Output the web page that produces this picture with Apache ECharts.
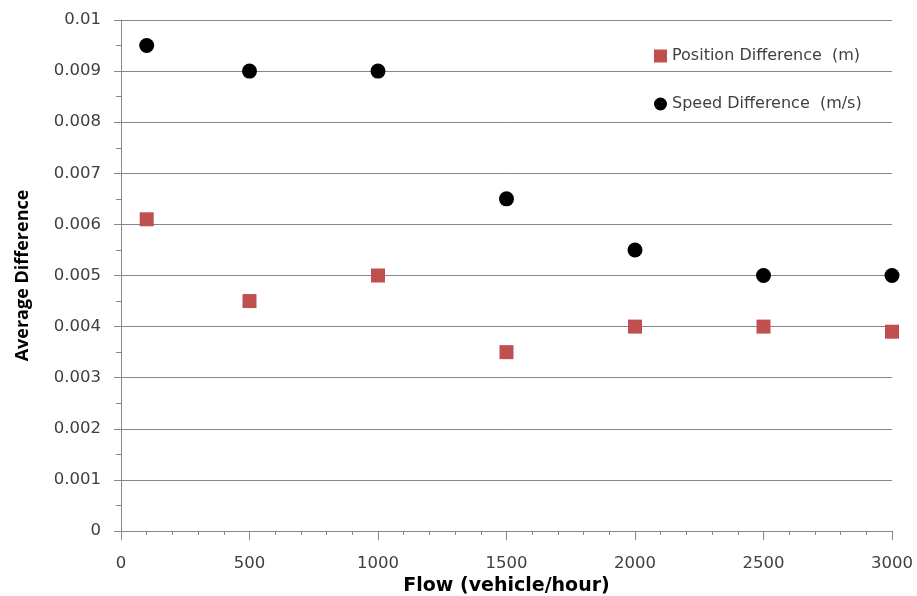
<!DOCTYPE html>
<html><head><meta charset="utf-8">
<script src="https://cdn.jsdelivr.net/npm/echarts@6/dist/echarts.min.js"></script>
<style>html,body{margin:0;padding:0;background:#fff}#c{width:917px;height:596px}</style>
</head><body><div id="c"></div>
<script>
var flows = [100, 500, 1000, 1500, 2000, 2500, 3000];
var positionDiff = [0.0061, 0.0045, 0.0050, 0.0035, 0.0040, 0.0040, 0.0039];
var speedDiff = [0.0095, 0.0090, 0.0090, 0.0065, 0.0055, 0.0050, 0.0050];
var seriesNames = ['Position Difference  (m)', 'Speed Difference  (m/s)'];

var chart = echarts.init(document.getElementById('c'));
var hfont = '"DejaVu Sans", sans-serif';
var vfont = '"Open Sans", sans-serif';
function pairs(xs, ys){ return xs.map(function(x,i){return [x, ys[i]];}); }
chart.setOption({
  animation: false,
  backgroundColor: '#fff',
  grid: {left: 121, right: 25, top: 20, bottom: 65, containLabel: false, outerBoundsMode: 'none'},
  legend: {
    orient: 'vertical', left: 649, top: 43, itemGap: 32,
    itemWidth: 13, itemHeight: 13,
    textStyle: {fontFamily: hfont, fontSize: 16, color: '#404040'},
    data: [{name: seriesNames[0], icon: 'rect'}, {name: seriesNames[1], icon: 'circle'}]
  },
  xAxis: {
    type: 'value', min: 0, max: 3000, interval: 500,
    name: 'Flow (vehicle/hour)', nameLocation: 'middle', nameGap: 36,
    nameTextStyle: {fontFamily: hfont, fontSize: 19, fontWeight: 'bold', color: '#000'},
    axisLine: {lineStyle: {color: '#868686'}},
    axisTick: {show: true, length: 9, lineStyle: {color: '#868686'}},
    minorTick: {show: true, splitNumber: 5, length: 4, lineStyle: {color: '#868686'}},
    axisLabel: {fontFamily: hfont, fontSize: 16.5, color: '#404040', margin: 24,
      formatter: function(v){ return String(v); }},
    splitLine: {show: false}
  },
  yAxis: {
    type: 'value', min: 0, max: 0.01, interval: 0.001,
    name: 'Average Difference', nameLocation: 'middle', nameGap: 89,
    nameTextStyle: {fontFamily: vfont, fontSize: 18, fontWeight: 'bold', color: '#000'},
    axisLine: {show: true, lineStyle: {color: '#868686'}},
    axisTick: {show: true, length: 7, lineStyle: {color: '#868686'}},
    minorTick: {show: true, splitNumber: 2, length: 5, lineStyle: {color: '#868686'}},
    axisLabel: {fontFamily: hfont, fontSize: 16.5, color: '#404040', margin: 20,
      formatter: function(v){ return v === 0 ? '0' : String(parseFloat(v.toFixed(4))); }},
    splitLine: {show: true, lineStyle: {color: '#868686', width: 1}}
  },
  series: [
    {name: seriesNames[0], type: 'scatter', symbol: 'rect', symbolSize: 14,
     itemStyle: {color: '#C0504D', opacity: 1}, data: pairs(flows, positionDiff)},
    {name: seriesNames[1], type: 'scatter', symbol: 'circle', symbolSize: 15,
     itemStyle: {color: '#000', opacity: 1}, data: pairs(flows, speedDiff)}
  ]
});
</script></body></html>
